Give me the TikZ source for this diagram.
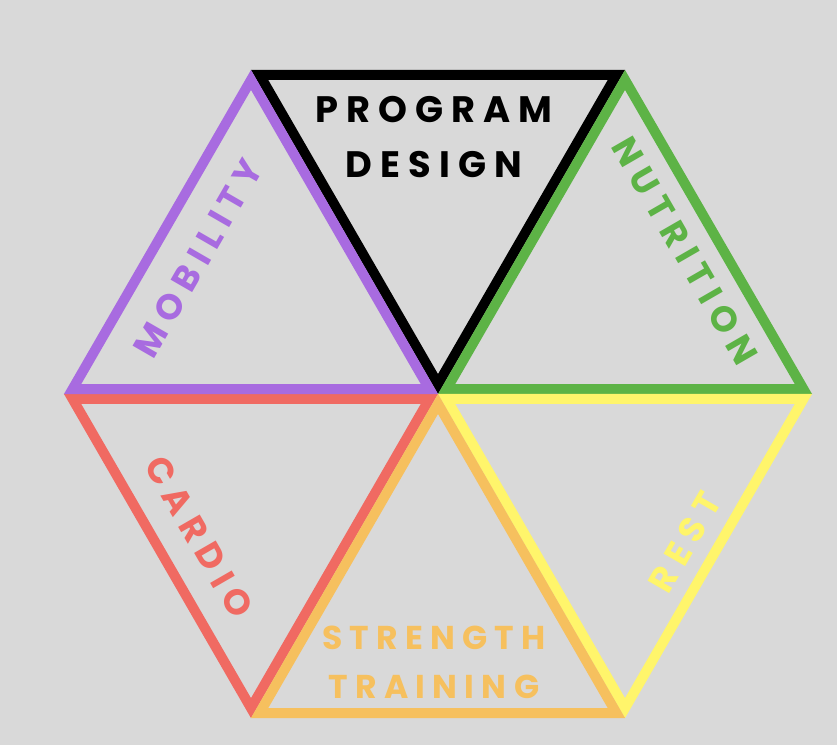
\documentclass[tikz,border=0pt]{standalone}
\usepackage{fontspec}
\usetikzlibrary{calc}
\newfontfamily\labelfont{Poppins}[LetterSpace=22]
\definecolor{bg}{HTML}{D9D9D9}
\definecolor{mobility}{HTML}{A86BE0}
\definecolor{nutrition}{HTML}{5DB346}
\definecolor{cardio}{HTML}{F06A62}
\definecolor{strength}{HTML}{F6C05E}
\definecolor{rest}{HTML}{FFF56B}
% one triangle of the hexagon, shrunk towards its centroid so the stroke stays inside
\newcommand\hexpiece[3]{%
  \coordinate (g) at ($0.33333*(O)+0.33333*(#2)+0.33333*(#3)$);
  \draw[side, #1] ($(g)!0.954!(O)$) -- ($(g)!0.954!(#2)$) -- ($(g)!0.954!(#3)$) -- cycle;}
\begin{document}
\begin{tikzpicture}[x=1pt, y=-1pt,
  side/.style={line width=10pt, line join=miter},
  lbl/.style={font=\labelfont\bfseries\fontsize{35.5}{55}\selectfont, inner sep=0pt, align=center},
  toplbl/.style={lbl, font=\labelfont\bfseries\fontsize{36.8}{55}\selectfont},
  botlbl/.style={lbl, font=\labelfont\bfseries\fontsize{33}{49}\selectfont}]
\fill[bg] (0,0) rectangle (837,745);
\useasboundingbox (0,0) rectangle (837,745);
% hexagon centre and corners
\coordinate (O) at (438,394);
\coordinate (R) at (812,394);
\coordinate (TR) at (625,70);
\coordinate (TL) at (251,70);
\coordinate (L) at (64,394);
\coordinate (BL) at (251,718);
\coordinate (BR) at (625,718);
\hexpiece{black}{TL}{TR}
\hexpiece{nutrition}{TR}{R}
\hexpiece{rest}{R}{BR}
\hexpiece{cardio}{BL}{L}
\hexpiece{mobility}{L}{TL}
\hexpiece{strength}{BR}{BL}
% labels
\node[toplbl, text=black] (design) at (434,137) {PROGRAM\\DESIGN};
\node[botlbl, text=strength] (strengthlbl) at (434,662) {STRENGTH\\TRAINING};
\node[lbl, text=mobility, rotate=60] (mobilitylbl) at (198,258) {MOBILITY};
\node[lbl, text=nutrition, rotate=-60] (nutritionlbl) at (685,251) {NUTRITION};
\node[lbl, text=cardio, rotate=-60] (cardiolbl) at (199,537) {CARDIO};
\node[lbl, text=rest, rotate=60] (restlbl) at (685,542) {REST};
\end{tikzpicture}
\end{document}
